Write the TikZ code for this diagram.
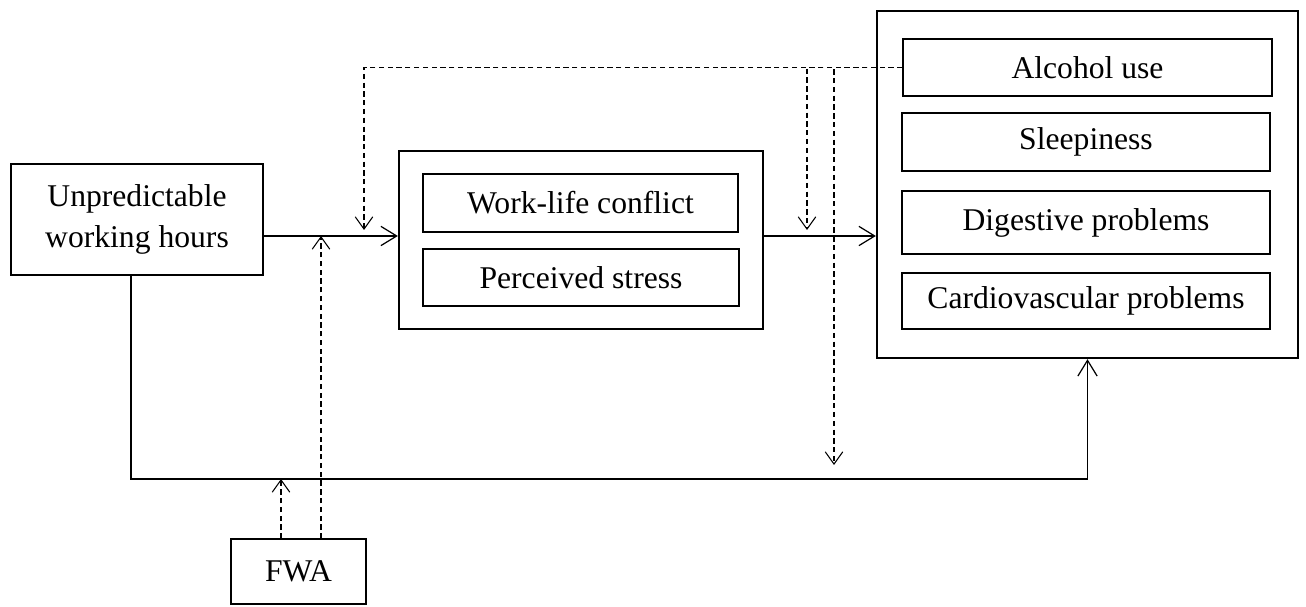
\documentclass[tikz,border=0pt]{standalone}
\usepackage{fontspec}
\setmainfont{Liberation Serif}
\usetikzlibrary{arrows.meta}
\begin{document}
\begin{tikzpicture}[
  box/.style={draw,line width=0.6pt,inner sep=0pt,align=center,font=\fontsize{18}{23}\selectfont},
  bigbox/.style={draw,line width=1.3pt,inner sep=0pt},
  mainarr/.style={line width=0.7pt,-{Straight Barb[length=9pt,width=11pt]}},
  modarr/.style={line width=0.6pt,dash pattern=on 3pt off 2pt,-{Straight Barb[length=7pt,width=10pt]}}
]
\useasboundingbox (0,0) rectangle (26.12,12.12);
\node[box,minimum width=5.04cm,minimum height=2.22cm] (uwh) at (2.74,7.73) {Unpredictable\\working hours};
\node[bigbox,minimum width=7.28cm,minimum height=3.56cm] (med) at (11.62,7.32) {};
\node[box,minimum width=6.3cm,minimum height=1.16cm] (wlc) at (11.61,8.06) {Work-life conflict};
\node[box,minimum width=6.32cm,minimum height=1.14cm] (ps) at (11.62,6.57) {Perceived stress};
\node[bigbox,minimum width=8.42cm,minimum height=6.94cm] (out) at (21.75,8.43) {};
\node[box,minimum width=7.38cm,minimum height=1.14cm] (alc) at (21.75,10.77) {Alcohol use};
\node[box,minimum width=7.36cm,minimum height=1.16cm] (slp) at (21.72,9.28) {Sleepiness};
\node[box,minimum width=7.36cm,minimum height=1.26cm] (dig) at (21.72,7.67) {Digestive problems};
\node[box,minimum width=7.36cm,minimum height=1.12cm] (card) at (21.72,6.10) {Cardiovascular problems};
\node[box,minimum width=2.7cm,minimum height=1.3cm] (fwa) at (5.97,0.69) {FWA};
\coordinate (lvl) at (0,7.40);
\coordinate (corner) at (21.75,2.54);
\coordinate (mod1) at (7.28,7.52);
\coordinate (mod2) at (16.14,7.52);
\coordinate (mod3) at (16.68,2.82);
\draw[mainarr] (uwh.east |- lvl) -- (med.west |- lvl);
\draw[mainarr] (med.east |- lvl) -- (out.west |- lvl);
\draw[mainarr] ([xshift=-0.12cm]uwh.south) |- (corner) -- (out.south);
\draw[modarr] (alc.west) -| (mod1);
\draw[modarr] (alc.west) -| (mod2);
\draw[modarr] (alc.west) -| (mod3);
\draw[modarr] ([xshift=-0.35cm]fwa.north) -- ([xshift=-0.35cm]fwa.north |- corner);
\draw[modarr] ([xshift=0.45cm]fwa.north) -- ([xshift=0.45cm]fwa.north |- lvl);
\end{tikzpicture}
\end{document}
